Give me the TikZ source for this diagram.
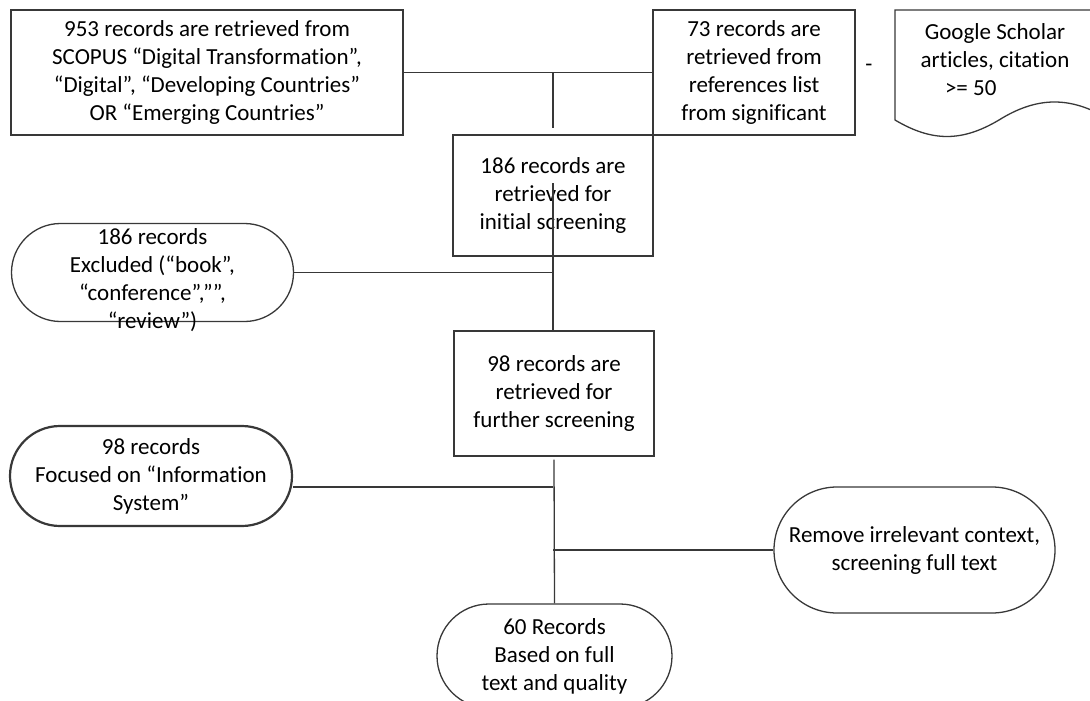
\documentclass[tikz,border=0pt]{standalone}
\usepackage{fontspec}
\setmainfont{Carlito}[Ligatures=NoCommon, RawFeature={-liga;-clig;-calt}]
\usetikzlibrary{shapes.misc}
\definecolor{ink}{rgb}{0.22, 0.22, 0.22}

\begin{document}
\begin{tikzpicture}[x=1pt, y=-1pt, font=\fontsize{23}{28}\selectfont,
  recbox/.style={draw=ink, line width=1.3pt, inner sep=0pt, align=center},
  pill/.style={rounded rectangle, draw=ink, line width=1.3pt, inner sep=0pt, align=center}]
\useasboundingbox (0, 0) rectangle (1090, 701);
\clip (0, 0) rectangle (1090, 701);
% sources
\node[recbox, minimum width=392pt, minimum height=125pt] (scopus) at (207, 72.5) {953 records are retrieved from\\SCOPUS “Digital Transformation”,\\“Digital”, “Developing Countries”\\OR “Emerging Countries”};
\node[recbox, minimum width=202pt, minimum height=125pt] (refs) at (754, 72.5) {73 records are\\retrieved from\\references list\\from significant};
\node (dash) at (869, 68) {-};
\draw[ink, line width=1.3pt] (895, 10) -- (1110, 10) -- (1110, 120)
  .. controls (1070, 95) and (1036, 97) .. (999, 120)
  .. controls (962, 142) and (932, 142) .. (895, 120) -- cycle;
\node[align=center] (scholar) at (995, 60) {Google Scholar\\articles, citation\\\makebox[150pt][l]{\hspace{25pt}>= 50}};
% screening
\node[recbox, minimum width=200pt, minimum height=121pt] (initial) at (553, 195.5) {186 records are\\retrieved for\\initial screening};
\node[pill, minimum width=282pt, minimum height=98pt] (excluded) at (152.5, 272.5) {\raisebox{-15pt}[0pt][0pt]{\begin{tabular}{@{}c@{}}186 records\\Excluded (“book”,\\“conference”,””,\\“review”)\end{tabular}}};
\node[recbox, minimum width=200pt, minimum height=125pt] (further) at (554, 393.5) {98 records are\\retrieved for\\further screening};
\node[pill, line width=2.2pt, minimum width=282pt, minimum height=100pt] (focused) at (151, 476) {98 records\\Focused on “Information\\System”};
\node[pill, minimum width=281pt, minimum height=126pt] (remove) at (914.5, 550) {Remove irrelevant context,\\screening full text};
\node[pill, minimum width=235pt, minimum height=104pt] (final) at (554.5, 656) {60 Records\\Based on full\\text and quality};
% connectors
\coordinate (join) at (553, 73);
\coordinate (cstem) at (553, 183);
\draw[ink, line width=1.3pt] (scopus.east) -- (refs.west);
\draw[ink, line width=1.3pt] (join) -- (553, 128);
\draw[ink, line width=1.3pt] (cstem) -- (cstem |- further.north);
\draw[ink, line width=1.3pt] (excluded.east) -- (excluded.east -| cstem);
\draw[ink, line width=1.3pt] ([yshift=-3pt]further.south) -- (final.north);
\draw[ink, line width=1.3pt] ([yshift=-11pt]focused.east) -- ([yshift=-11pt]focused.east -| cstem);
\draw[ink, line width=1.3pt] (remove.west) -- (remove.west -| cstem);
\end{tikzpicture}
\end{document}
